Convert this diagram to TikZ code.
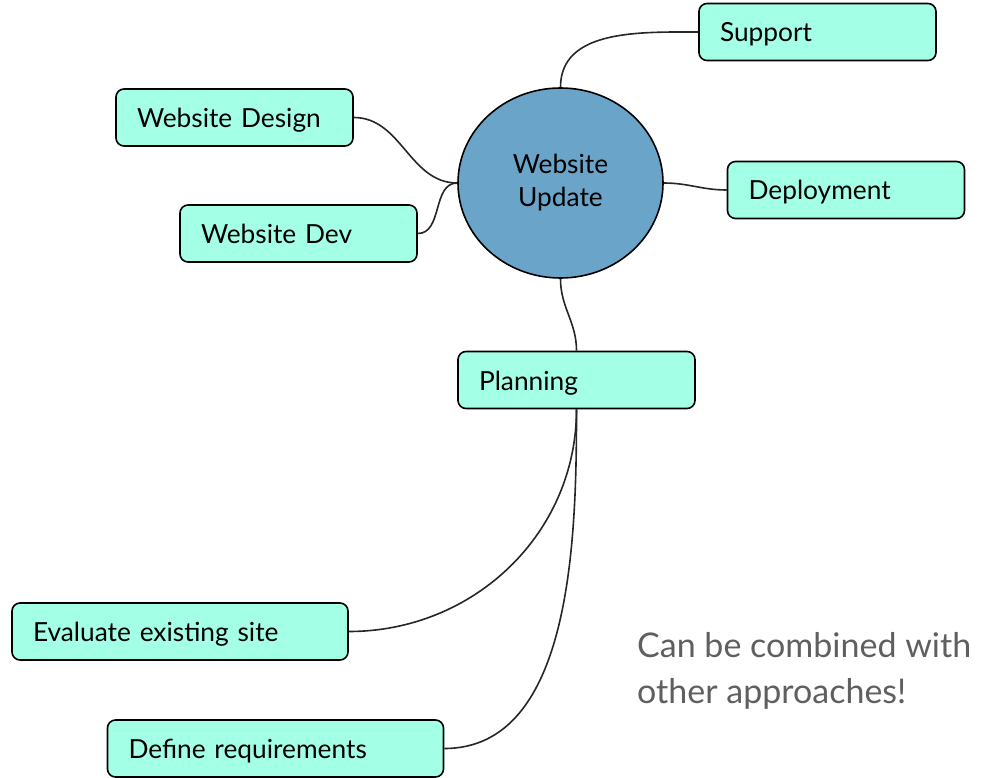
\documentclass[tikz,border=0pt]{standalone}
\usepackage{fontspec}
\setmainfont{Lato}
\usepackage{tikz}
\usetikzlibrary{shapes.geometric, positioning}
\definecolor{Topic_Aqua}{HTML}{A3FFE6}
\definecolor{Hub_Blue}{HTML}{6AA4C8}
\definecolor{Note_Gray}{HTML}{5F5F5F}

\begin{document}
\begin{tikzpicture}[x=1pt, y=-1pt,
    topic/.style={draw, line width=1.6pt, fill=Topic_Aqua, rounded corners=8pt, minimum height=57pt, text width=195pt, inner xsep=21pt, text height=26pt, text depth=6pt, align=left, font=\fontsize{26.3}{30}\selectfont},
    widetopic/.style={topic, text width=294pt},
    hub/.style={draw, ellipse, line width=1.6pt, fill=Hub_Blue, minimum width=205pt, minimum height=190pt, align=center, font=\fontsize{26.3}{33}\selectfont},
    link/.style={line width=1.6pt, draw=black!85}]
    \useasboundingbox (0,0) rectangle (990,778);

    % Hub
    \node[hub] (update) at (560.5,183) {Website\\Update};

    % Topics
    \node[topic] (support) at (817.5,32) {Support};
    \node[topic] (design) at (234.5,117.5) {Website Design};
    \node[topic] (dev) at (298.5,233.5) {Website Dev};
    \node[topic] (deploy) at (846,190) {Deployment};
    \node[topic] (planning) at (576.5,380) {Planning};
    \node[widetopic] (evaluate) at (180,631.5) {Evaluate existing site};
    \node[widetopic] (define) at (275.5,748.5) {Define requirements};

    % Links
    \draw[link] (update.north) to[out=90, in=180] (support.west);
    \draw[link] (design.east) to[out=0, in=180] (update.west);
    \draw[link] (dev.east) to[out=0, in=180] (update.west);
    \draw[link] (update.east) to[out=0, in=180] (deploy.west);
    \draw[link] (update.south) to[out=-90, in=90] (planning.north);
    \draw[link] (planning.south) to[out=-90, in=0] (evaluate.east);
    \draw[link] (planning.south) to[out=-90, in=0, looseness=0.9] (define.east);

    % Note
    \node[Note_Gray, anchor=north west, align=left, inner sep=0pt, font=\fontsize{34}{46}\selectfont] (note) at (637,632) {Can be combined with\\other approaches!};
\end{tikzpicture}
\end{document}
